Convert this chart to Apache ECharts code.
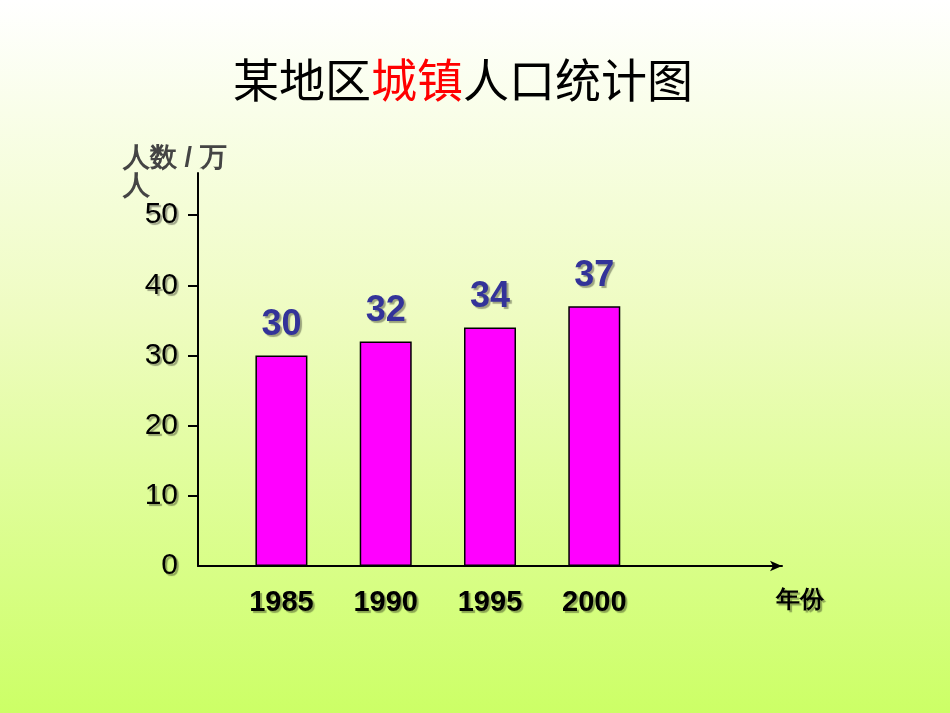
<!DOCTYPE html>
<html><head><meta charset="utf-8">
<script src="https://cdn.jsdelivr.net/npm/echarts@6/dist/echarts.min.js"></script>
<style>html,body{margin:0;padding:0}#c{width:950px;height:713px;background:linear-gradient(#ffffff 0%,#eefcc0 45%,#ccff66 100%)}</style>
</head><body><div id="c"></div>
<script>
const years = [1985, 1990, 1995, 2000];
const population = [30, 32, 34, 37];
const yTicks = [0, 10, 20, 30, 40, 50];

const chart = echarts.init(document.getElementById('c'));
const shadow = { textShadowColor: 'rgba(0,0,0,0.35)', textShadowOffsetX: 2, textShadowOffsetY: 2, textShadowBlur: 1 };
chart.setOption({
  title: {
    text: '{a|某地区}{b|城镇}{a|人口统计图}', left: 228, top: 52,
    textStyle: { rich: {
      a: { fontSize: 46, fontWeight: 'normal', color: '#000', fontFamily: 'Noto Sans CJK SC' },
      b: { fontSize: 46, fontWeight: 'normal', color: '#ff0000', fontFamily: 'Noto Sans CJK SC' }
    } }
  },
  grid: { left: 198, right: 168, top: 173, bottom: 147 },
  xAxis: {
    type: 'value', min: 1981, max: 2009,
    splitLine: { show: false },
    axisLine: { lineStyle: { color: '#000', width: 2 }, symbol: ['none', 'arrow'], symbolSize: [8, 12] },
    axisTick: { show: false },
    axisLabel: { customValues: years, formatter: v => String(v), color: '#000', fontSize: 29, fontWeight: 'bold', fontFamily: 'Arial', margin: 22, ...shadow },
    name: '年份', nameLocation: 'end', nameGap: 0,
    nameTextStyle: { fontSize: 24, fontWeight: 'bold', color: '#000', verticalAlign: 'top', align: 'left', padding: [22, 0, 0, -6], ...shadow }
  },
  yAxis: {
    type: 'value', min: 0, max: 56,
    splitLine: { show: false },
    axisLine: { show: true, lineStyle: { color: '#000', width: 2 } },
    axisTick: { show: true, customValues: yTicks.slice(1), length: 10, lineStyle: { color: '#000', width: 2 } },
    axisLabel: { customValues: yTicks, color: '#000', fontSize: 30, fontFamily: 'Arial', margin: 20, ...shadow },
    name: '人数 / 万\n人', nameLocation: 'end', nameGap: 2,
    nameTextStyle: { fontSize: 27, fontWeight: 'bold', color: '#444', align: 'left', padding: [0, 0, -42, -75], lineHeight: 28 }
  },
  series: [{
    type: 'bar', barWidth: 52,
    data: years.map((y, i) => [y, population[i]]),
    itemStyle: { color: '#ff00ff', borderColor: '#000', borderWidth: 1.5 },
    label: { show: true, position: 'top', distance: 12, formatter: p => p.value[1],
      fontSize: 36, fontWeight: 'bold', fontFamily: 'Arial', color: '#333399', ...shadow }
  }]
});
</script></body></html>
